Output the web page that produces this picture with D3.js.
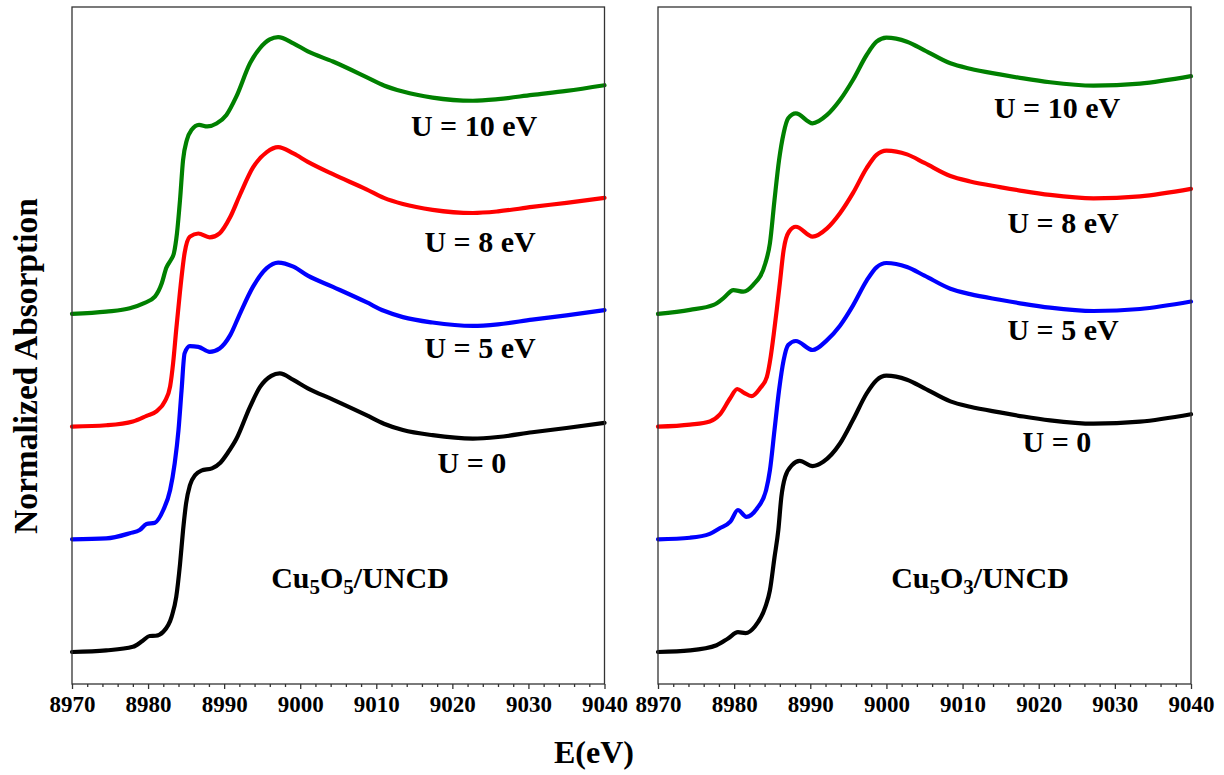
<!DOCTYPE html>
<html>
<head>
<meta charset="utf-8">
<script src="https://cdn.jsdelivr.net/npm/d3@7"></script>
<style>
  html, body { margin: 0; padding: 0; background: #fff; }
  svg { display: block; }
  text { font-family: "Liberation Serif", "Times New Roman", serif; font-weight: bold; fill: #000; }
</style>
</head>
<body>
<svg id="chart" width="1224" height="775"></svg>
<script>
// Cu K-edge XANES, simulated with different Hubbard U values.
// Each series: [energy (eV), normalized absorption]; curves are stacked by offsets.

const energyTicks = [8970, 8980, 8990, 9000, 9010, 9020, 9030, 9040];
const seriesLabels = ["U = 0", "U = 5 eV", "U = 8 eV", "U = 10 eV"];
const seriesColors = ["#000000", "#0000ff", "#ff0000", "#008000"];
const stackOffsets = [0, 0.5, 1.0, 1.5];

// ---- Cu5O5/UNCD ----
const cu5o5_U0 = [[8970,0],[8974.5,0.007],[8978,0.023],[8979.3,0.05],[8980.2,0.071],[8981,0.072],[8982,0.09],[8983.1,0.157],[8983.7,0.244],[8984.2,0.39],[8984.6,0.54],[8985,0.66],[8985.5,0.74],[8986.2,0.785],[8987,0.805],[8988.4,0.815],[8989.5,0.84],[8990.5,0.885],[8991.6,0.945],[8993.4,1.088],[8994.7,1.175],[8996.2,1.225],[8997.3,1.236],[8999.1,1.207],[9001,1.17],[9004.3,1.12],[9008.7,1.051],[9011,1.013],[9013.5,0.985],[9017.4,0.962],[9022.7,0.947],[9026,0.954],[9030.5,0.975],[9035,0.994],[9040,1.017]];
const cu5o5_U5 = [[8970,0],[8974.5,0.004],[8977.6,0.027],[8978.9,0.041],[8979.8,0.068],[8980.9,0.074],[8982,0.13],[8982.9,0.219],[8983.5,0.337],[8984,0.485],[8984.4,0.66],[8984.8,0.825],[8985.5,0.857],[8986.6,0.854],[8988.1,0.832],[8989.4,0.847],[8990.8,0.906],[8992.1,1.003],[8993.8,1.121],[8995.6,1.203],[8997.1,1.228],[8999.1,1.21],[9001,1.17],[9004.3,1.12],[9008.7,1.052],[9011,1.014],[9013.5,0.986],[9017.4,0.962],[9022.7,0.947],[9026,0.954],[9030.5,0.975],[9035,0.994],[9040,1.017]];
const cu5o5_U8 = [[8970,0],[8974.5,0.006],[8978,0.023],[8979.8,0.048],[8981.1,0.068],[8982.2,0.112],[8982.9,0.179],[8983.3,0.284],[8983.7,0.43],[8984.2,0.6],[8984.8,0.77],[8985.5,0.843],[8986.6,0.857],[8988.1,0.84],[8989.4,0.858],[8990.8,0.93],[8992.1,1.03],[8993.8,1.15],[8995.6,1.218],[8997.1,1.24],[8999.1,1.212],[9001,1.175],[9004.3,1.12],[9008.7,1.053],[9011,1.015],[9013.5,0.988],[9017.4,0.962],[9022.7,0.948],[9026,0.955],[9030.5,0.975],[9035,0.993],[9040,1.015]];
const cu5o5_U10 = [[8970,0],[8974.5,0.01],[8977.6,0.025],[8979.4,0.047],[8980.9,0.077],[8981.8,0.136],[8982.4,0.205],[8983,0.24],[8983.4,0.27],[8983.8,0.358],[8984.2,0.506],[8984.6,0.683],[8985.1,0.772],[8985.7,0.816],[8986.7,0.839],[8987.8,0.832],[8989,0.845],[8990.3,0.883],[8991.6,0.964],[8993.4,1.112],[8994.7,1.179],[8996,1.218],[8997.1,1.228],[8999.1,1.201],[9001,1.165],[9004.3,1.12],[9008.7,1.051],[9011,1.014],[9013.5,0.987],[9017.4,0.96],[9022.7,0.946],[9026,0.953],[9030.5,0.972],[9035,0.99],[9040,1.015]];

// ---- Cu5O3/UNCD ----
const cu5o3_U0 = [[8970,0],[8974.2,0.007],[8977.7,0.03],[8979.2,0.06],[8980.5,0.088],[8981.5,0.084],[8982.7,0.112],[8984.1,0.2],[8984.7,0.274],[8985.3,0.42],[8985.8,0.54],[8986.2,0.688],[8986.7,0.777],[8987.6,0.829],[8988.6,0.848],[8990.3,0.825],[8991.7,0.844],[8993.9,0.925],[8995.6,1.029],[8997.4,1.147],[8998.7,1.206],[9000,1.226],[9002.7,1.208],[9005,1.17],[9008.4,1.112],[9011,1.088],[9014.9,1.063],[9018,1.045],[9021.5,1.028],[9027.2,1.013],[9033.3,1.022],[9040,1.055]];
const cu5o3_U5 = [[8970,0],[8974.2,0.007],[8976.8,0.024],[8978.1,0.049],[8979.5,0.078],[8980.5,0.13],[8981.6,0.1],[8983,0.137],[8984.2,0.219],[8984.7,0.307],[8985.3,0.485],[8985.9,0.662],[8986.5,0.795],[8987.1,0.862],[8988.1,0.88],[8990.3,0.84],[8992.2,0.884],[8993.9,0.948],[8995.6,1.037],[8997.4,1.148],[8998.7,1.207],[9000,1.226],[9002.7,1.208],[9005,1.17],[9008.4,1.112],[9011,1.088],[9014.9,1.063],[9018,1.045],[9021.5,1.028],[9027.2,1.013],[9033.3,1.022],[9040,1.055]];
const cu5o3_U8 = [[8970,0],[8974.2,0.009],[8976.8,0.023],[8978.1,0.053],[8979.5,0.127],[8980.4,0.167],[8981.3,0.15],[8982.3,0.135],[8983.4,0.17],[8984.3,0.221],[8984.8,0.31],[8985.2,0.41],[8985.6,0.52],[8986,0.636],[8986.5,0.784],[8987.2,0.865],[8988.1,0.887],[8990.3,0.843],[8992.2,0.88],[8993.9,0.947],[8995.6,1.036],[8997.4,1.147],[8998.7,1.206],[9000,1.225],[9002.7,1.208],[9005,1.17],[9008.4,1.112],[9011,1.088],[9014.9,1.063],[9018,1.045],[9021.5,1.028],[9027.2,1.013],[9033.3,1.022],[9040,1.055]];
const cu5o3_U10 = [[8970,0],[8974.2,0.018],[8977.3,0.04],[8978.6,0.07],[8979.9,0.106],[8981.2,0.099],[8982.5,0.129],[8984.1,0.225],[8984.7,0.314],[8985.3,0.506],[8985.9,0.683],[8986.5,0.802],[8987.1,0.868],[8988.1,0.89],[8990.3,0.846],[8992.2,0.883],[8993.9,0.949],[8995.6,1.038],[8997.4,1.149],[8998.7,1.208],[9000,1.226],[9002.7,1.208],[9005,1.17],[9008.4,1.112],[9011,1.088],[9014.9,1.063],[9018,1.045],[9021.5,1.028],[9027.2,1.013],[9033.3,1.022],[9040,1.055]];

const panels = [
  { name: ["Cu", "5", "O", "5", "/UNCD"], series: [cu5o5_U0, cu5o5_U5, cu5o5_U8, cu5o5_U10],
    left: 72, right: 604.5, nameX: 360,
    labelPos: [[472, 473], [480, 358], [480, 252], [474, 136]] },
  { name: ["Cu", "5", "O", "3", "/UNCD"], series: [cu5o3_U0, cu5o3_U5, cu5o3_U8, cu5o3_U10],
    left: 658, right: 1191, nameX: 980,
    labelPos: [[1057, 452], [1063, 340], [1063, 233], [1057, 118]] }
];

const plotTop = 7, plotBottom = 684;
const svg = d3.select("#chart");

const y = d3.scaleLinear().domain([-0.142, 2.862]).range([plotBottom, plotTop]);

panels.forEach(p => {
  const x = d3.scaleLinear().domain([8970, 9040]).range([p.left, p.right]);
  const g = svg.append("g");

  // stacked spectra
  const line = d3.line().x(d => x(d[0])).curve(d3.curveMonotoneX);
  p.series.forEach((s, i) => {
    g.append("path")
      .attr("d", line.y(d => y(d[1] + stackOffsets[i]))(s))
      .attr("fill", "none")
      .attr("stroke", seriesColors[i])
      .attr("stroke-width", 4.2)
      .attr("stroke-linejoin", "round")
      .attr("stroke-linecap", "round");
  });

  // minor ticks every 2 eV
  const minor = d3.range(8970, 9041, 2).filter(v => (v - 8970) % 10 !== 0);
  g.append("g")
    .attr("transform", `translate(0,${plotBottom})`)
    .call(d3.axisBottom(x).tickValues(minor).tickSize(3).tickFormat(""))
    .call(a => a.select(".domain").remove())
    .call(a => a.selectAll("line").attr("stroke", "#333").attr("stroke-width", 1.3));

  // major ticks and labels
  g.append("g")
    .attr("transform", `translate(0,${plotBottom})`)
    .call(d3.axisBottom(x).tickValues(energyTicks).tickSize(5).tickFormat(d3.format("d")))
    .call(a => a.select(".domain").remove())
    .call(a => a.selectAll("line").attr("stroke", "#333").attr("stroke-width", 1.3))
    .call(a => a.selectAll("text")
      .attr("y", 28).attr("dy", null)
      .attr("font-size", 23)
      .style("font-family", '"Liberation Serif", "Times New Roman", serif')
      .style("font-weight", "bold")
      .attr("fill", "#000"));

  // frame
  g.append("rect")
    .attr("x", p.left).attr("y", plotTop)
    .attr("width", p.right - p.left).attr("height", plotBottom - plotTop)
    .attr("fill", "none").attr("stroke", "#333").attr("stroke-width", 1.3);

  // series labels
  p.labelPos.forEach((pos, i) => {
    g.append("text")
      .attr("x", pos[0]).attr("y", pos[1])
      .attr("text-anchor", "middle")
      .attr("font-size", 30)
      .text(seriesLabels[i]);
  });

  // sample name with subscripts
  const t = g.append("text")
    .attr("x", p.nameX).attr("y", 588)
    .attr("text-anchor", "middle")
    .attr("font-size", 30);
  t.append("tspan").text(p.name[0]);
  t.append("tspan").attr("font-size", 21).attr("dy", 6).text(p.name[1]);
  t.append("tspan").attr("dy", -6).text(p.name[2]);
  t.append("tspan").attr("font-size", 21).attr("dy", 6).text(p.name[3]);
  t.append("tspan").attr("dy", -6).text(p.name[4]);
});

// axis titles
svg.append("text")
  .attr("x", 594).attr("y", 763)
  .attr("text-anchor", "middle")
  .attr("font-size", 32)
  .text("E(eV)");

svg.append("text")
  .attr("transform", "translate(37,366) rotate(-90)")
  .attr("text-anchor", "middle")
  .attr("font-size", 33.5)
  .text("Normalized Absorption");
</script>
</body>
</html>
